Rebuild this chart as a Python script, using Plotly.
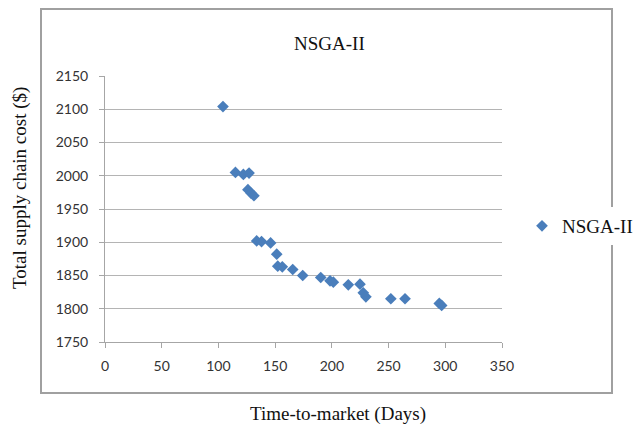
import plotly.graph_objects as go

# Data
time_to_market = [104, 115, 122, 127, 126, 128.7, 131.3, 133.7, 138, 146, 151.4, 152.3, 156.3,
                  165.5, 174.3, 190.2, 198.4, 201.3, 214.5, 224.8, 227.7, 230, 252, 264.5,
                  294.7, 296.8]
supply_cost = [2104, 2005, 2002, 2004, 1979, 1974, 1970, 1902, 1901, 1899, 1882, 1864, 1863,
               1859, 1850, 1847, 1842, 1840, 1836, 1837, 1824, 1818, 1815, 1815, 1808, 1805]
series_name = "NSGA-II"
chart_title = "NSGA-II"
x_title = "Time-to-market (Days)"
y_title = "Total supply chain cost ($)"
x_ticks = [0, 50, 100, 150, 200, 250, 300, 350]
y_ticks = [1750, 1800, 1850, 1900, 1950, 2000, 2050, 2100, 2150]

W, H = 634, 425
L, R, T, B = 105, 132, 76, 83
pw, ph = W - L - R, H - T - B

def px(xp):
    return (xp - L) / pw

def py(yp):
    return (H - B - yp) / ph

serif = "Liberation Serif"
sans = "Lato"

fig = go.Figure()
fig.add_trace(go.Scatter(
    x=time_to_market, y=supply_cost, mode="markers", name=series_name,
    marker=dict(symbol="diamond", size=9, color="#4A7EBB"),
    showlegend=True,
))

fig.update_layout(
    width=W, height=H,
    margin=dict(l=L, r=R, t=T, b=B, pad=0, autoexpand=False),
    paper_bgcolor="white", plot_bgcolor="white",
    showlegend=True,
    legend=dict(x=px(522), y=py(226), xanchor="left", yanchor="middle",
                bgcolor="white", borderwidth=0,
                font=dict(family=serif, size=19, color="#111")),
    xaxis=dict(range=[0, 350], tickvals=x_ticks, showgrid=False, zeroline=False,
               showline=True, linecolor="#A6A6A6", linewidth=1,
               ticks="outside", ticklen=5, tickcolor="#A6A6A6",
               tickfont=dict(family=sans, size=14, color="#333"),
               ticklabelstandoff=6, fixedrange=True, automargin=False),
    yaxis=dict(range=[1750, 2150], tickvals=y_ticks, showgrid=True, gridcolor="#B4B4B4",
               gridwidth=1, zeroline=False, showline=True, linecolor="#A6A6A6", linewidth=1,
               ticks="outside", ticklen=5, tickcolor="#A6A6A6",
               tickfont=dict(family=sans, size=14, color="#333"),
               ticklabelstandoff=8, fixedrange=True, automargin=False),
    shapes=[dict(type="rect", xref="paper", yref="paper",
                 x0=px(41), x1=px(612), y0=py(393), y1=py(9),
                 line=dict(color="#A0A0A0", width=2), layer="below")],
    annotations=[
        dict(text=chart_title, xref="paper", yref="paper", x=px(329), y=py(43),
             xanchor="center", yanchor="middle", showarrow=False,
             font=dict(family=serif, size=19, color="#111")),
        dict(text=x_title, xref="paper", yref="paper", x=px(338), y=py(414),
             xanchor="center", yanchor="middle", showarrow=False,
             font=dict(family=serif, size=19, color="#111")),
        dict(text=y_title, xref="paper", yref="paper", x=px(20), y=py(188),
             xanchor="center", yanchor="middle", showarrow=False, textangle=-90,
             font=dict(family=serif, size=19, color="#111")),
    ],
)

fig.write_html("out.html", config={"displayModeBar": False})
